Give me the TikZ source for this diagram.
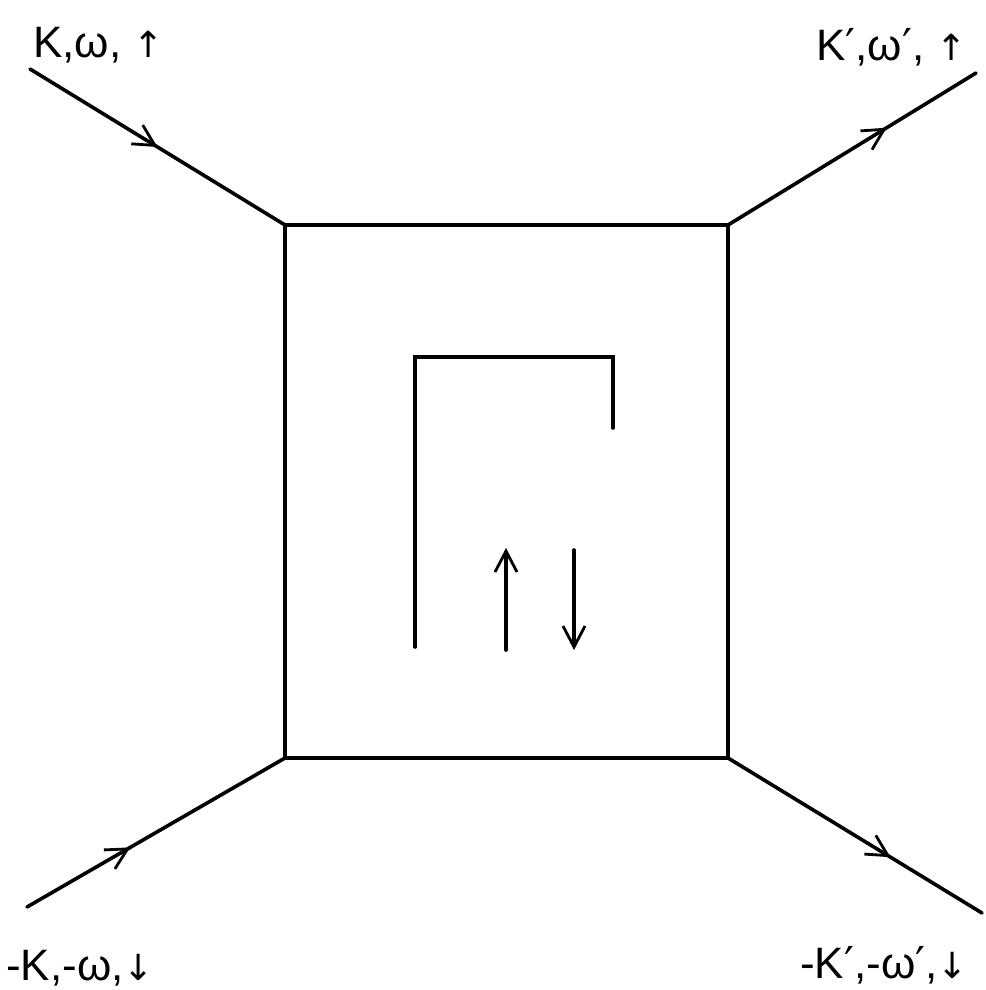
\documentclass[tikz,border=0pt]{standalone}
\usepackage{fontspec}
\setmainfont{Liberation Sans}
\newfontfamily\arrowfont{DejaVu Sans}
\usetikzlibrary{arrows.meta,decorations.markings}
\newcommand{\pr}{{\arrowfont ′}}
\newcommand{\upa}{{\arrowfont\fontsize{36}{40}\selectfont ↑}}
\newcommand{\dna}{{\arrowfont\fontsize{36}{40}\selectfont ↓}}
\tikzset{
  line/.style={line width=3.6pt, line cap=round, line join=miter},
  barb/.tip={Straight Barb[length=21pt,width=22pt,line width=2.8pt]},
  midarrow/.style={postaction={decorate}, decoration={markings,
    mark=at position #1 with {\arrow{barb}}}},
  lab/.style={anchor=base west, inner sep=0pt, font=\fontsize{44}{50}\selectfont},
}
\begin{document}
\begin{tikzpicture}[x=1pt,y=-1pt]
\useasboundingbox (0,0) rectangle (985,990);
% box corners
\coordinate (tl) at (285,225);
\coordinate (tr) at (728,225);
\coordinate (br) at (728,758);
\coordinate (bl) at (285,758);
% external ends
\coordinate (etl) at (30,69);
\coordinate (etr) at (976,73);
\coordinate (ebl) at (27,907);
\coordinate (ebr) at (982,913);
% inner bracket
\coordinate (ia) at (415,647);
\coordinate (ib) at (415,357);
\coordinate (ic) at (613,357);
\coordinate (id) at (613,428);
\coordinate (ua) at (506,650);
\coordinate (ub) at (506,548);
\coordinate (da) at (574,550);
\coordinate (db) at (574,650);

\draw[line] (tl) -- (tr) -- (br) -- (bl) -- cycle;
\draw[line, midarrow=0.50] (etl) -- (tl);
\draw[line, midarrow=0.64] (tr) -- (etr);
\draw[line, midarrow=0.40] (ebl) -- (bl);
\draw[line, midarrow=0.64] (br) -- (ebr);

\draw[line] (ia) -- (ib) -- (ic) -- (id);
\draw[line, -{barb}] (ua) -- (ub);
\draw[line, -{barb}] (da) -- (db);

\node[lab] (l1) at (33,58) {K,ω, \upa};
\node[lab] (l2) at (816,60) {K\pr,ω\pr, \upa};
\node[lab] (l3) at (6,980) {-K,-ω,\dna};
\node[lab] (l4) at (800,978) {-K\pr,-ω\pr,\dna};
\end{tikzpicture}
\end{document}
